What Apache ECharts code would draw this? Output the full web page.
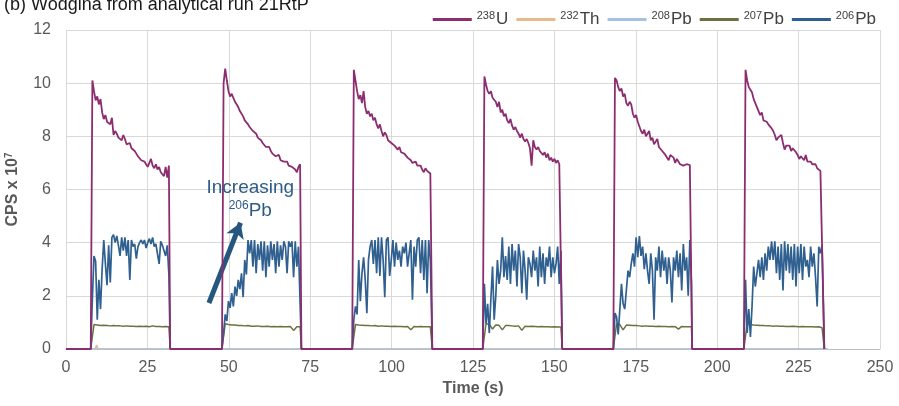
<!DOCTYPE html>
<html>
<head>
<meta charset="utf-8">
<script src="https://cdn.jsdelivr.net/npm/echarts@6/dist/echarts.min.js"></script>
<style>
html,body{margin:0;padding:0;background:#fff;}
#chart{width:899px;height:406px;}
</style>
</head>
<body>
<div id="chart"></div>
<script>
// ---- data ----
const titleText = '(b) Wodgina from analytical run 21RtP';
const xTicks = [0, 25, 50, 75, 100, 125, 150, 175, 200, 225, 250];
const yTicks = [0, 2, 4, 6, 8, 10, 12];
const pulseStart = [7.6, 47.9, 87.9, 128.0, 168.1, 208.2];   // s
const pulseEnd   = [32.0, 72.3, 112.5, 152.4, 192.3, 232.9]; // s
const sampleStep = 0.5;     // s, 238U and 206Pb
const sampleStep207 = 1.0;  // s, 207Pb

const u238 = [
  [10.1, 9.7, 9.35, 9.5, 9.2, 9.4, 8.9, 8.65, 8.8, 8.55, 8.6, 8.45, 8.7, 8.05, 8.2, 8.1, 7.95, 8.0, 7.85, 8.05, 7.9, 7.7, 7.65, 7.75, 7.55, 7.5, 7.45, 7.35, 7.25, 7.3, 7.1, 7.15, 7.05, 6.95, 6.85, 7.0, 7.15, 6.9, 6.8, 6.95, 6.75, 6.85, 6.65, 6.7, 6.5, 6.85, 6.45, 6.9],
  [10.0, 10.55, 10.1, 9.7, 9.5, 9.6, 9.45, 9.3, 9.35, 9.1, 8.95, 9.0, 8.75, 8.6, 8.65, 8.45, 8.35, 8.4, 8.2, 8.15, 8.1, 7.95, 8.0, 7.85, 7.75, 7.8, 7.6, 7.55, 7.6, 7.45, 7.35, 7.4, 7.25, 7.2, 7.3, 7.1, 7.15, 7.05, 7.0, 7.05, 6.9, 6.95, 6.85, 6.8, 6.75, 6.65, 6.85, 6.95],
  [10.5, 10.1, 9.7, 9.4, 9.55, 9.25, 9.7, 9.1, 8.85, 8.95, 8.75, 8.85, 8.6, 8.7, 8.45, 8.3, 8.45, 8.2, 8.0, 8.15, 8.05, 7.85, 7.9, 7.75, 7.8, 7.65, 7.7, 7.5, 7.6, 7.4, 7.45, 7.35, 7.3, 7.2, 7.25, 7.1, 7.0, 6.95, 7.05, 6.9, 6.85, 6.9, 6.75, 6.65, 6.8, 6.7, 6.65, 6.6],
  [10.25, 9.95, 9.7, 9.6, 9.7, 9.45, 9.5, 9.3, 9.1, 9.3, 8.9, 9.0, 8.75, 8.85, 8.6, 8.5, 8.65, 8.4, 8.25, 8.35, 8.2, 8.1, 7.95, 8.1, 7.9, 7.8, 7.9, 7.75, 7.55, 6.9, 7.85, 7.6, 7.5, 7.6, 7.45, 7.5, 7.3, 7.4, 7.2, 7.35, 7.1, 7.2, 7.05, 7.15, 7.0, 7.1, 6.95, 6.9],
  [10.2, 10.1, 9.85, 9.7, 9.8, 9.5, 9.6, 9.25, 9.15, 9.3, 9.2, 8.85, 8.7, 8.8, 8.55, 8.6, 8.2, 8.1, 8.25, 8.0, 8.1, 8.2, 7.85, 7.95, 7.7, 7.8, 7.9, 7.6, 7.55, 7.45, 7.4, 7.3, 7.25, 7.1, 7.3, 7.25, 7.2, 7.0, 7.15, 7.1, 6.95, 7.0, 6.9, 6.85, 6.95, 6.9, 6.92, 6.9],
  [10.5, 10.1, 9.85, 9.75, 9.65, 9.4, 9.35, 9.1, 8.95, 8.8, 8.9, 8.6, 8.65, 8.55, 8.45, 8.4, 8.3, 8.2, 8.05, 7.85, 7.95, 7.9, 8.05, 7.75, 7.5, 7.65, 7.6, 7.65, 7.45, 7.55, 7.5, 7.4, 7.3, 7.15, 7.25, 7.2, 7.1, 7.3, 7.05, 7.0, 7.05, 6.95, 6.9, 6.95, 6.8, 6.85, 6.7, 6.65]
];

const pb206 = [
  [1.9, 3.5, 3.3, 1.1, 2.6, 1.5, 3.0, 4.1, 3.2, 2.4, 3.9, 2.5, 4.2, 4.3, 4.0, 4.25, 3.9, 3.5, 4.2, 3.7, 4.2, 3.5, 4.1, 2.6, 4.1, 3.85, 3.95, 3.4, 3.85, 4.0, 4.1, 3.95, 4.1, 3.8, 4.0, 4.15, 3.95, 4.2, 3.85, 3.95, 3.9, 3.2, 4.05, 3.9, 3.7, 3.5, 3.9, 2.8],
  [0.6, 1.3, 1.05, 1.8, 1.55, 2.1, 1.6, 2.35, 2.0, 2.6, 2.25, 2.85, 1.95, 3.35, 2.8, 4.1, 3.6, 4.1, 3.1, 4.1, 2.85, 3.95, 3.35, 4.05, 2.95, 4.05, 2.7, 3.9, 3.1, 4.05, 3.35, 3.95, 2.85, 4.05, 3.1, 3.9, 3.35, 4.05, 3.85, 2.85, 4.05, 3.85, 4.05, 2.7, 4.05, 3.1, 3.85, 3.9],
  [1.1, 1.6, 1.3, 3.35, 1.8, 2.85, 3.45, 2.6, 1.35, 3.35, 3.85, 4.1, 3.2, 4.1, 2.85, 4.2, 2.75, 4.2, 3.35, 1.95, 4.1, 4.2, 2.75, 3.35, 4.1, 3.1, 4.0, 3.35, 3.7, 3.1, 3.85, 3.6, 4.0, 3.1, 3.6, 4.1, 1.85, 3.85, 3.1, 4.1, 4.2, 2.85, 4.1, 2.6, 4.1, 2.1, 4.1, 3.35],
  [2.45, 0.95, 1.7, 0.6, 1.9, 3.1, 1.1, 2.0, 3.35, 2.45, 2.95, 4.2, 2.7, 3.5, 2.6, 3.85, 2.45, 3.95, 2.95, 3.7, 2.35, 3.95, 3.45, 2.1, 3.7, 2.95, 1.85, 3.45, 3.2, 2.7, 3.7, 2.95, 3.45, 2.35, 3.85, 2.7, 3.6, 2.45, 3.45, 3.1, 3.85, 2.7, 3.45, 2.85, 3.2, 3.85, 2.45, 3.7],
  [1.35, 1.2, 0.55, 1.5, 2.45, 1.7, 1.5, 2.2, 2.95, 2.7, 3.2, 3.6, 3.1, 4.2, 3.45, 4.25, 3.5, 3.85, 3.0, 3.6, 2.95, 2.45, 3.6, 2.95, 1.1, 3.45, 2.95, 3.85, 2.7, 3.7, 2.95, 3.45, 2.45, 3.45, 2.95, 1.75, 3.45, 2.95, 3.7, 2.7, 3.6, 2.2, 3.95, 2.95, 3.45, 2.0, 4.1, 2.45],
  [2.6, 0.6, 1.5, 0.45, 1.6, 3.1, 2.35, 2.85, 3.35, 2.7, 3.45, 2.6, 3.6, 2.95, 3.85, 3.35, 4.05, 3.35, 4.05, 2.85, 3.85, 2.6, 3.95, 2.2, 4.05, 2.95, 3.95, 2.85, 3.85, 2.6, 3.95, 2.35, 3.85, 2.85, 3.95, 2.6, 3.85, 3.1, 3.35, 2.7, 3.85, 3.1, 3.6, 2.7, 1.6, 3.85, 3.6, 3.9]
];

const pb207 = [
  [0.92, 0.9, 0.88, 0.89, 0.88, 0.87, 0.88, 0.87, 0.87, 0.86, 0.87, 0.86, 0.86, 0.85, 0.86, 0.85, 0.86, 0.84, 0.87, 0.85, 0.85, 0.84, 0.85, 0.84],
  [0.95, 0.92, 0.9, 0.9, 0.88, 0.88, 0.87, 0.88, 0.86, 0.86, 0.87, 0.85, 0.85, 0.86, 0.84, 0.85, 0.84, 0.85, 0.84, 0.84, 0.85, 0.7, 0.84, 0.84],
  [0.92, 0.9, 0.89, 0.88, 0.88, 0.87, 0.88, 0.86, 0.87, 0.86, 0.86, 0.85, 0.86, 0.85, 0.85, 0.84, 0.85, 0.72, 0.85, 0.84, 0.85, 0.84, 0.84, 0.84],
  [0.95, 0.93, 0.75, 0.9, 0.89, 0.72, 0.88, 0.88, 0.87, 0.86, 0.87, 0.7, 0.86, 0.85, 0.86, 0.85, 0.84, 0.85, 0.84, 0.84, 0.83, 0.84, 0.83, 0.83],
  [0.95, 0.92, 0.72, 0.9, 0.89, 0.88, 0.88, 0.87, 0.86, 0.87, 0.86, 0.86, 0.85, 0.86, 0.85, 0.85, 0.84, 0.85, 0.84, 0.75, 0.85, 0.84, 0.84, 0.84],
  [0.95, 0.92, 0.9, 0.89, 0.88, 0.88, 0.87, 0.87, 0.86, 0.87, 0.86, 0.86, 0.85, 0.85, 0.86, 0.85, 0.84, 0.85, 0.84, 0.84, 0.84, 0.83, 0.84, 0.8]
];

const th232Times  = [0, 9.0, 9.4, 9.8, 234];
const th232Values = [0, 0, 0.15, 0, 0];
const pb208Times  = [0, 234];
const pb208Values = [0, 0];

// annotation (data coordinates)
const noteLine1 = 'Increasing';
const noteMass = '206';
const noteElem = 'Pb';
const noteTextAt1 = [56.6, 6.05];
const noteTextAt2 = [56.6, 5.2];
const arrowFrom = [43.9, 1.73];
const arrowTo = [53.6, 4.75];

// ---- build ----
function buildPulses(pulses, step) {
  const d = [[0, 0]];
  pulses.forEach((vals, p) => {
    d.push([pulseStart[p], 0]);
    vals.forEach((v, i) => d.push([+(pulseStart[p] + (i + 1) * step).toFixed(3), v]));
    d.push([pulseEnd[p], 0]);
  });
  return d;
}
function zip(xs, ys) { return xs.map((x, i) => [x, ys[i]]); }

const FONT = '"Liberation Sans", Arial, sans-serif';
const C = {
  u: '#8C2D6F', th: '#E8BA8A', pb208: '#A9C0E6', pb207: '#6C713F', pb206: '#2F6090', note: '#2E5C86', arrow: '#24567F'
};

const names = {u: '238U', th: '232Th', pb208: '208Pb', pb207: '207Pb', pb206: '206Pb'};
const legendRich = {
  '238U': ['238', 'U'], '232Th': ['232', 'Th'], '208Pb': ['208', 'Pb'], '207Pb': ['207', 'Pb'], '206Pb': ['206', 'Pb']
};

function lineSeries(name, color, data, width, z, extra) {
  return Object.assign({
    name, type: 'line', data, showSymbol: false, symbol: 'none',
    lineStyle: {color, width}, itemStyle: {color}, z,
    emphasis: {disabled: true}, animation: false
  }, extra || {});
}

const chart = echarts.init(document.getElementById('chart'), null, {renderer: 'canvas'});
const option = {
  animation: false,
  backgroundColor: '#ffffff',
  title: {
    text: titleText, left: -1, top: -9,
    textStyle: {fontFamily: FONT, fontSize: 18, fontWeight: 'normal', color: '#1a1a1a'}
  },
  legend: {
    data: [names.u, names.th, names.pb208, names.pb207, names.pb206],
    right: 18, top: 5, icon: 'rect', itemWidth: 39, itemHeight: 3, itemGap: 8,
    formatter: n => `{s|${legendRich[n][0]}}{n|${legendRich[n][1]}}`,
    textStyle: {
      fontFamily: FONT, color: '#404040',
      rich: {
        s: {fontSize: 11, fontFamily: FONT, color: '#404040', verticalAlign: 'top', lineHeight: 19, padding: [0, 1, 0, 0]},
        n: {fontSize: 17, fontFamily: FONT, color: '#404040', lineHeight: 19}
      }
    }
  },
  grid: {left: 66, right: 19, top: 30, bottom: 57, containLabel: false, outerBoundsMode: 'none'},
  xAxis: {
    type: 'value', min: 0, max: 250, interval: 25,
    name: 'Time (s)', nameLocation: 'middle', nameGap: 32,
    nameTextStyle: {fontFamily: FONT, fontSize: 16, fontWeight: 'bold', color: '#595959'},
    axisLine: {show: true, lineStyle: {color: '#BFBFBF', width: 1}},
    axisTick: {show: false},
    axisLabel: {fontFamily: FONT, fontSize: 16, color: '#595959', margin: 11,
      formatter: v => xTicks.includes(v) ? String(v) : ''},
    splitLine: {show: true, lineStyle: {color: '#D9D9D9', width: 1}}
  },
  yAxis: {
    type: 'value', min: 0, max: 12, interval: 2,
    name: '{b|CPS x 10}{s|7}', nameLocation: 'middle', nameGap: 44, nameRotate: 90,
    nameTextStyle: {
      rich: {
        b: {fontFamily: FONT, fontSize: 16, fontWeight: 'bold', color: '#595959', lineHeight: 18},
        s: {fontFamily: FONT, fontSize: 10, fontWeight: 'bold', color: '#595959', verticalAlign: 'top', lineHeight: 18}
      }
    },
    axisLine: {show: false},
    axisTick: {show: false},
    axisLabel: {fontFamily: FONT, fontSize: 16, color: '#595959', margin: 15,
      formatter: v => yTicks.includes(v) ? String(v) : ''},
    splitLine: {show: true, lineStyle: {color: '#D9D9D9', width: 1}}
  },
  series: [
    lineSeries(names.th, C.th, zip(th232Times, th232Values), 1.6, 2),
    lineSeries(names.pb208, C.pb208, zip(pb208Times, pb208Values), 1.6, 2),
    lineSeries(names.pb207, C.pb207, buildPulses(pb207, sampleStep207), 1.5, 3),
    lineSeries(names.pb206, C.pb206, buildPulses(pb206, sampleStep), 1.7, 4, {
      markLine: {
        silent: true, animation: false, symbol: ['none', 'arrow'], symbolSize: [14, 15],
        label: {show: false}, emphasis: {disabled: true},
        lineStyle: {color: C.arrow, width: 5, type: 'solid'},
        data: [[{coord: arrowFrom}, {coord: arrowTo}]]
      }
    }),
    lineSeries(names.u, C.u, buildPulses(u238, sampleStep), 1.8, 5)
  ]
};
chart.setOption(option);

const p1 = chart.convertToPixel({gridIndex: 0}, noteTextAt1);
const p2 = chart.convertToPixel({gridIndex: 0}, noteTextAt2);
chart.setOption({
  graphic: [
    {type: 'text', x: p1[0], y: p1[1], z: 100,
      style: {text: noteLine1, fill: C.note, font: `19px ${FONT}`, align: 'center', verticalAlign: 'middle'}},
    {type: 'text', x: p2[0], y: p2[1], z: 100,
      style: {
        text: `{s|${noteMass}}{n|${noteElem}}`, align: 'center', verticalAlign: 'middle',
        rich: {
          s: {fontFamily: FONT, fontSize: 12, fill: C.note, verticalAlign: 'top', lineHeight: 22},
          n: {fontFamily: FONT, fontSize: 19, fill: C.note, lineHeight: 22}
        }
      }}
  ]
});
</script>
</body>
</html>
